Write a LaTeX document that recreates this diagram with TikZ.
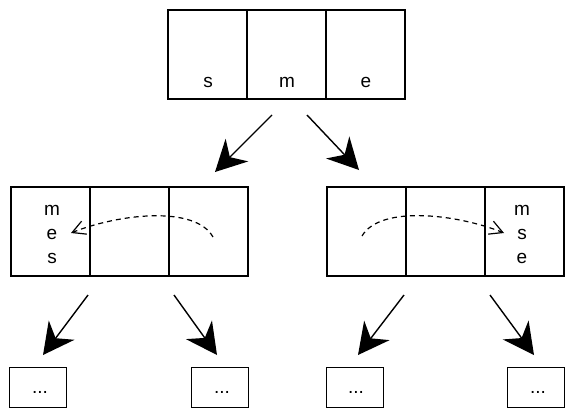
\documentclass[tikz,border=0pt]{standalone}
\usepackage{fontspec}
\setmainfont{Liberation Sans}
\usetikzlibrary{arrows.meta}
\begin{document}
\begin{tikzpicture}[x=1pt,y=-1pt,
  cell/.style={draw, line width=1.4pt, minimum width=79pt, minimum height=89pt, inner sep=0pt, outer sep=0pt},
  leaf/.style={draw, line width=1.4pt, minimum width=57pt, minimum height=40pt, inner sep=0pt, outer sep=0pt},
  lbl/.style={font=\fontsize{19}{22}\selectfont, inner sep=0pt},
  bigarrow/.style={line width=1.4pt, -{Stealth[length=31pt,width=32pt,inset=10pt]}},
  curvearrow/.style={line width=1.2pt, dash pattern=on 5pt off 4pt, -{Straight Barb[length=13pt,width=14pt,line width=1.2pt]}}
]
\useasboundingbox (0,0) rectangle (575,418);
% top array
\node[cell] (t1) at (207.5,54.5) {};
\node[cell] (t2) at (286.5,54.5) {};
\node[cell] (t3) at (365.5,54.5) {};
\node[lbl] (ts) at (208,82) {s};
\node[lbl] (tm) at (287,82) {m};
\node[lbl] (te) at (366,82) {e};
% left middle array
\node[cell] (l1) at (50.5,231.5) {};
\node[cell] (l2) at (129.5,231.5) {};
\node[cell] (l3) at (208.5,231.5) {};
\node[lbl] (lm) at (52,210) {m};
\node[lbl] (le) at (52,234) {e};
\node[lbl] (ls) at (52,258) {s};
% right middle array
\node[cell] (r1) at (366.5,231.5) {};
\node[cell] (r2) at (445.5,231.5) {};
\node[cell] (r3) at (524.5,231.5) {};
\node[lbl] (rm) at (522,210) {m};
\node[lbl] (rs) at (522,234) {s};
\node[lbl] (re) at (522,258) {e};
% leaves
\node[leaf] (b1) at (38,387.5) {};
\node[leaf] (b2) at (220,387.5) {};
\node[leaf] (b3) at (355,387.5) {};
\node[leaf] (b4) at (536,387.5) {};
\node[lbl] (d1) at (40,392) {...};
\node[lbl] (d2) at (222,392) {...};
\node[lbl] (d3) at (356,392) {...};
\node[lbl] (d4) at (538,392) {...};
% arrow end points
\coordinate (a1s) at (272,115); \coordinate (a1e) at (215,172);
\coordinate (a2s) at (307,115); \coordinate (a2e) at (359,170);
\coordinate (a3s) at (88,295);  \coordinate (a3e) at (43,355);
\coordinate (a4s) at (174,295); \coordinate (a4e) at (217,355);
\coordinate (a5s) at (404,295); \coordinate (a5e) at (358,355);
\coordinate (a6s) at (490,295); \coordinate (a6e) at (534,355);
\draw[bigarrow] (a1s) -- (a1e);
\draw[bigarrow] (a2s) -- (a2e);
\draw[bigarrow] (a3s) -- (a3e);
\draw[bigarrow] (a4s) -- (a4e);
\draw[bigarrow] (a5s) -- (a5e);
\draw[bigarrow] (a6s) -- (a6e);
% curved dashed arrows
\coordinate (c1s) at (213,237); \coordinate (c1e) at (71,233);
\coordinate (c2s) at (362,236); \coordinate (c2e) at (504,233);
\draw[curvearrow] (c1s) .. controls (195,205) and (118,214) .. (c1e);
\draw[curvearrow] (c2s) .. controls (380,205) and (457,214) .. (c2e);
\end{tikzpicture}
\end{document}
